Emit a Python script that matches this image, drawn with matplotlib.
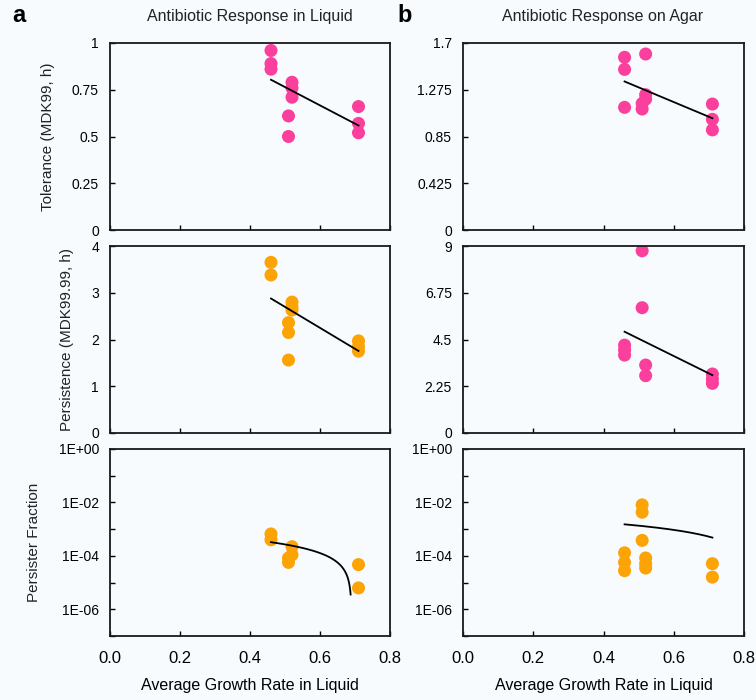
import numpy as np
import matplotlib.pyplot as plt
from matplotlib.ticker import FixedLocator, FuncFormatter, NullFormatter

plt.rcParams['font.family'] = ['Liberation Sans', 'DejaVu Sans']

PINK = '#fb3f9c'
ORANGE = '#fca306'
BG = '#f7fbfd'

# average growth rate in liquid for each replicate, and the measured responses
tol_liq_x = [0.46, 0.46, 0.46, 0.52, 0.52, 0.52, 0.51, 0.51, 0.71, 0.71, 0.71]
tol_liq_y = [0.96, 0.89, 0.86, 0.79, 0.76, 0.71, 0.61, 0.50, 0.66, 0.57, 0.52]

tol_agar_x = [0.46, 0.46, 0.46, 0.52, 0.52, 0.52, 0.51, 0.51, 0.71, 0.71, 0.71]
tol_agar_y = [1.57, 1.46, 1.115, 1.60, 1.23, 1.19, 1.15, 1.10, 1.145, 1.006, 0.91]

per_liq_x = [0.46, 0.46, 0.52, 0.52, 0.52, 0.51, 0.51, 0.51, 0.71, 0.71, 0.71]
per_liq_y = [3.65, 3.38, 2.80, 2.70, 2.63, 2.36, 2.15, 1.56, 1.97, 1.85, 1.75]

per_agar_x = [0.51, 0.51, 0.46, 0.46, 0.46, 0.52, 0.52, 0.71, 0.71, 0.71]
per_agar_y = [8.77, 6.03, 4.23, 4.00, 3.75, 3.27, 2.76, 2.84, 2.60, 2.39]

frac_liq_x = [0.46, 0.46, 0.52, 0.52, 0.51, 0.51, 0.71, 0.71]
frac_liq_y = [6.6e-4, 4.0e-4, 2.2e-4, 1.1e-4, 8.3e-5, 5.7e-5, 4.7e-5, 6.3e-6]

frac_agar_x = [0.51, 0.51, 0.51, 0.46, 0.46, 0.46, 0.52, 0.52, 0.52, 0.71, 0.71]
frac_agar_y = [8.1e-3, 4.3e-3, 3.8e-4, 1.3e-4, 5.7e-5, 2.8e-5, 8.3e-5, 5.1e-5, 3.5e-5, 5.1e-5, 1.6e-5]

tol_liq_ticks = [0, 0.25, 0.5, 0.75, 1]
tol_agar_ticks = [0, 0.425, 0.85, 1.275, 1.7]
per_liq_ticks = [0, 1, 2, 3, 4]
per_agar_ticks = [0, 2.25, 4.5, 6.75, 9]
x_ticks = [0.0, 0.2, 0.4, 0.6, 0.8]

# the linear trend is not drawn below this fraction on the log panels
trend_floor = 3e-6

fig = plt.figure(figsize=(7.56, 7.0), dpi=100, facecolor=BG)

lefts = [110 / 756, 463 / 756]
widths = [280 / 756, 281 / 756]
bottoms = [(700 - 230) / 700, (700 - 433) / 700, (700 - 636) / 700]
height = 187 / 700

panels = [
    (0, 0, tol_liq_x, tol_liq_y, PINK, tol_liq_ticks, False, 'Tolerance (MDK99, h)', -0.196),
    (1, 0, tol_agar_x, tol_agar_y, PINK, tol_agar_ticks, False, None, None),
    (0, 1, per_liq_x, per_liq_y, ORANGE, per_liq_ticks, False, 'Persistence (MDK99.99, h)', -0.129),
    (1, 1, per_agar_x, per_agar_y, PINK, per_agar_ticks, False, None, None),
    (0, 2, frac_liq_x, frac_liq_y, ORANGE, None, True, 'Persister Fraction', -0.246),
    (1, 2, frac_agar_x, frac_agar_y, ORANGE, None, True, None, None),
]


def tick_text(v, pos):
    return ('%g' % v)


def sci_text(v, pos):
    e = int(round(np.log10(v)))
    return '1E%s%02d' % ('+' if e >= 0 else '-', abs(e))


for col, row, xs, ys, color, yticks, logy, ylabel, lab_x in panels:
    ax = fig.add_axes([lefts[col], bottoms[row], widths[col], height])
    ax.set_facecolor(BG)
    xs = np.array(xs)
    ys = np.array(ys)

    ax.scatter(xs, ys, s=88, color=color, edgecolors='none', zorder=2)

    # least-squares line through the replicates
    slope, icpt = np.polyfit(xs, ys, 1)
    if logy:
        gx = np.linspace(xs.min(), xs.max(), 400)
        gy = slope * gx + icpt
        keep = gy > trend_floor
        ax.plot(gx[keep], gy[keep], color='black', lw=1.3, zorder=3)
    else:
        gx = np.array([xs.min(), xs.max()])
        ax.plot(gx, slope * gx + icpt, color='black', lw=1.3, zorder=3)

    ax.set_xlim(0, 0.8)
    ax.xaxis.set_major_locator(FixedLocator(x_ticks))
    if logy:
        ax.set_yscale('log')
        ax.set_ylim(1e-7, 1)
        ax.yaxis.set_major_locator(FixedLocator([1, 1e-2, 1e-4, 1e-6]))
        ax.yaxis.set_minor_locator(FixedLocator([1e-1, 1e-3, 1e-5, 1e-7]))
        ax.yaxis.set_major_formatter(FuncFormatter(sci_text))
        ax.yaxis.set_minor_formatter(NullFormatter())
        ax.xaxis.set_major_formatter(FuncFormatter(lambda v, p: '%.1f' % v))
        ax.set_xlabel('Average Growth Rate in Liquid', fontsize=11.5)
        ax.xaxis.set_label_coords(0.5, -0.225)
    else:
        ax.set_ylim(yticks[0], yticks[-1])
        ax.yaxis.set_major_locator(FixedLocator(yticks))
        ax.yaxis.set_major_formatter(FuncFormatter(tick_text))
        ax.tick_params(axis='x', labelbottom=False)

    ax.tick_params(which='both', direction='in', length=3.5, width=1,
                   top=False, right=False)
    ax.tick_params(axis='y', which='both', labelsize=10, pad=8)
    ax.tick_params(axis='x', labelsize=12, pad=11)
    for sp in ax.spines.values():
        sp.set_linewidth(1.3)
        sp.set_color('#1a1a1a')

    if ylabel:
        ax.set_ylabel(ylabel, fontsize=11, color='#222222')
        ax.yaxis.set_label_coords(lab_x, 0.5)

fig.text(250 / 756, 1 - 16 / 700, 'Antibiotic Response in Liquid',
         ha='center', va='center', fontsize=11.5, color='#222222')
fig.text(603 / 756, 1 - 16 / 700, 'Antibiotic Response on Agar',
         ha='center', va='center', fontsize=11.5, color='#222222')
fig.text(19 / 756, 1 - 15 / 700, 'a', ha='center', va='center',
         fontsize=17, fontweight='bold')
fig.text(405 / 756, 1 - 15 / 700, 'b', ha='center', va='center',
         fontsize=17, fontweight='bold')

fig.savefig('out.png', dpi=100, facecolor=BG)
